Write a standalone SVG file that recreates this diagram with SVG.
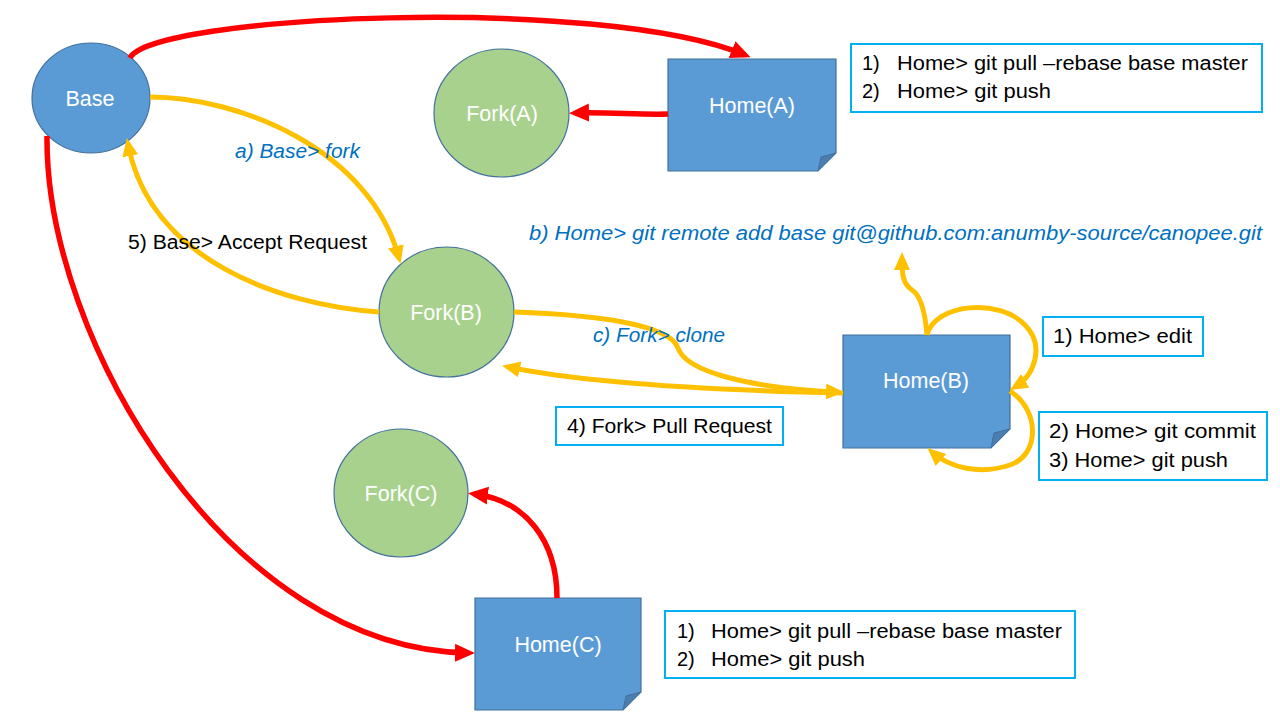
<svg xmlns="http://www.w3.org/2000/svg" width="1280" height="720" viewBox="0 0 1280 720">
<defs>
<style>
.circB{fill:#5B9BD5;stroke:#41719C;stroke-width:1.2}
.circG{fill:#A9D18E;stroke:#41719C;stroke-width:1.2}
.note{fill:#5B9BD5;stroke:#41719C;stroke-width:1.2}
.fold{fill:#4A7DB0;stroke:#41719C;stroke-width:1}
.nl{font-family:"Liberation Sans",Arial,sans-serif;font-size:21.5px;fill:#FFFFFF;text-anchor:middle}
.box{fill:#FFFFFF;stroke:#00B0F0;stroke-width:2}
.bt{font-family:"Liberation Sans",Arial,sans-serif;font-size:20px;fill:#000000}
.it{font-family:"Liberation Sans",Arial,sans-serif;font-size:20px;fill:#0070C0;font-style:italic}
.red{fill:none;stroke:#FF0000;stroke-width:5.5}
.yel{fill:none;stroke:#FFC000;stroke-width:5}
</style>
<marker id="ar" markerUnits="userSpaceOnUse" markerWidth="22" markerHeight="20" refX="14" refY="9" orient="auto"><path d="M0,0 L20,9 L0,18 z" fill="#FF0000"/></marker>
<marker id="ay" markerUnits="userSpaceOnUse" markerWidth="20" markerHeight="18" refX="12" refY="8" orient="auto"><path d="M0,0 L18,8 L0,16 z" fill="#FFC000"/></marker>
</defs>
<rect width="1280" height="720" fill="#FFFFFF"/>

<g id="base"><ellipse class="circB" cx="91" cy="98" rx="59" ry="55"/><text class="nl" x="90" y="106">Base</text></g>
<g id="forkA"><ellipse class="circG" cx="501.5" cy="113" rx="67.5" ry="64"/><text class="nl" x="502" y="121">Fork(A)</text></g>
<g id="homeA"><path class="note" d="M668,59 H836 V153 L818,171 H668 Z"/><path class="fold" d="M818,171 L821,157 L836,153 Z"/><text class="nl" x="752" y="113">Home(A)</text></g>
<g id="forkB"><ellipse class="circG" cx="446.5" cy="312" rx="67.5" ry="65"/><text class="nl" x="446" y="320">Fork(B)</text></g>
<g id="homeB"><path class="note" d="M843,335 H1010 V429 L991,448 H843 Z"/><path class="fold" d="M991,448 L994,433 L1010,429 Z"/><text class="nl" x="926" y="388">Home(B)</text></g>
<g id="forkC"><ellipse class="circG" cx="401" cy="493" rx="67" ry="64"/><text class="nl" x="401" y="501">Fork(C)</text></g>
<g id="homeC"><path class="note" d="M475,598 H641 V692 L623,710 H475 Z"/><path class="fold" d="M623,710 L626,696 L641,692 Z"/><text class="nl" x="558" y="652">Home(C)</text></g>

<g id="boxA"><rect class="box" x="851" y="44" width="411" height="68"/>
<text class="bt" x="862" y="70">1)</text><text class="bt" x="897" y="70" textLength="351" lengthAdjust="spacingAndGlyphs">Home&gt; git pull –rebase base master</text>
<text class="bt" x="862" y="98">2)</text><text class="bt" x="897" y="98" textLength="154" lengthAdjust="spacingAndGlyphs">Home&gt; git push</text></g>
<g id="boxC"><rect class="box" x="665" y="611" width="410" height="67"/>
<text class="bt" x="677" y="638">1)</text><text class="bt" x="711" y="638" textLength="351" lengthAdjust="spacingAndGlyphs">Home&gt; git pull –rebase base master</text>
<text class="bt" x="677" y="666">2)</text><text class="bt" x="711" y="666" textLength="154" lengthAdjust="spacingAndGlyphs">Home&gt; git push</text></g>
<g id="boxEdit"><rect class="box" x="1043" y="317" width="160" height="39"/><text class="bt" x="1053" y="343" textLength="139" lengthAdjust="spacingAndGlyphs">1) Home&gt; edit</text></g>
<g id="boxCommit"><rect class="box" x="1039" y="412" width="228" height="68"/>
<text class="bt" x="1049" y="438" textLength="207" lengthAdjust="spacingAndGlyphs">2) Home&gt; git commit</text>
<text class="bt" x="1049" y="467" textLength="179" lengthAdjust="spacingAndGlyphs">3) Home&gt; git push</text></g>
<g id="boxPull"><rect class="box" x="556" y="407" width="227" height="38"/><text class="bt" x="567" y="433" textLength="205" lengthAdjust="spacingAndGlyphs">4) Fork&gt; Pull Request</text></g>

<g id="connectors">
<path class="red" d="M130,58 C150,15 600,-5 745,55" marker-end="url(#ar)"/>
<path class="red" d="M668,114 C640,115 610,112 575,113" marker-end="url(#ar)"/>
<path class="red" d="M47,136 C45,340 230,650 469,653" marker-end="url(#ar)"/>
<path class="red" d="M557,598 C557,540 525,500 474,494" marker-end="url(#ar)"/>
<path class="yel" d="M150,97 C240,97 370,150 399,258" marker-end="url(#ay)"/>
<path class="yel" d="M379,312 C280,305 150,260 128,144" marker-end="url(#ay)"/>
<path class="yel" d="M514,312 C600,315 670,325 678,348 C686,372 750,388 838,392" marker-end="url(#ay)"/>
<path class="yel" d="M843,393 C700,390 580,382 508,367" marker-end="url(#ay)"/>
<path class="yel" d="M927,335 C925,310 920,295 912,290 C903,284 902,275 902,258" marker-end="url(#ay)"/>
<path class="yel" d="M927,335 C935,303 1000,298 1025,325 C1045,345 1035,375 1015,387" marker-end="url(#ay)"/>
<path class="yel" d="M1010,391 C1040,410 1040,455 1010,465 C980,475 950,468 932,452" marker-end="url(#ay)"/>
</g>

<g id="labels">
<text class="it" x="235" y="158" textLength="125" lengthAdjust="spacingAndGlyphs">a) Base&gt; fork</text>
<text class="it" x="529" y="240" textLength="733" lengthAdjust="spacingAndGlyphs">b) Home&gt; git remote add base git@github.com:anumby-source/canopee.git</text>
<text class="it" x="593" y="342" textLength="132" lengthAdjust="spacingAndGlyphs">c) Fork&gt; clone</text>
<text class="bt" x="128" y="249" textLength="239" lengthAdjust="spacingAndGlyphs">5) Base&gt; Accept Request</text>
</g>
</svg>
